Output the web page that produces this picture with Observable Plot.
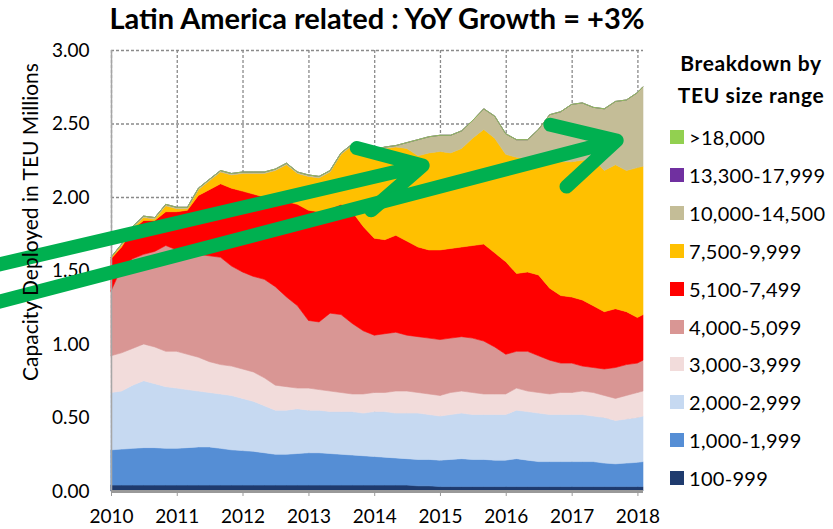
<!DOCTYPE html>
<html>
<head>
<meta charset="utf-8">
<script src="https://cdn.jsdelivr.net/npm/d3@7"></script>
<script src="https://cdn.jsdelivr.net/npm/@observablehq/plot@0.6"></script>
<style>
  html, body { margin: 0; padding: 0; background: #fff; }
  #wrap { position: relative; width: 833px; height: 529px; overflow: hidden; font-family: Lato, "Open Sans", sans-serif; color: #000; }
  #chart { position: absolute; left: 0; top: 0; }
  #title { position: absolute; left: 77px; width: 600px; top: 2px; text-align: center; font-weight: bold; font-size: 29px; line-height: 32px; white-space: nowrap; }
  #ylabel { position: absolute; left: 30px; top: 222px; transform: translate(-50%, -50%) rotate(-90deg); font-size: 21px; line-height: 24px; white-space: nowrap; }
  .lgtitle { position: absolute; left: 660px; width: 180px; text-align: center; font-weight: bold; font-size: 21px; letter-spacing: 0.6px; line-height: 26px; white-space: nowrap; }
  .lgitem { position: absolute; left: 670px; height: 22px; line-height: 22px; font-size: 20px; letter-spacing: 0.3px; white-space: nowrap; }
  .lgsw { position: absolute; left: 0; top: 4px; width: 14px; height: 14px; }
  .lgtx { position: absolute; left: 19px; top: 0; }
</style>
</head>
<body>
<div id="wrap">
  <div id="chart"></div>
  <div id="title"></div>
  <div id="ylabel"></div>
  <div id="legend"></div>
</div>
<script>
// ---- texts ----
const titleText = "Latin America related : YoY Growth = +3%";
const yLabelText = "Capacity Deployed in TEU Millions";
const legendTitle = ["Breakdown by", "TEU size range"];

// ---- axes ----
const yearTicks = ["2010", "2011", "2012", "2013", "2014", "2015", "2016", "2017", "2018"];
const yTickValues = [0, 0.5, 1, 1.5, 2, 2.5, 3];

// ---- categories (bottom of stack first) ----
const seriesNames = ["100-999", "1,000-1,999", "2,000-2,999", "3,000-3,999", "4,000-5,099", "5,100-7,499", "7,500-9,999", "10,000-14,500", "13,300-17,999", ">18,000"];
const seriesColors = ["#1f3b6e", "#558ed5", "#c6d9f1", "#f2dcdb", "#d99694", "#ff0000", "#ffc000", "#c4bd97", "#7030a0", "#92d050"];

// ---- dates (every two months) ----
const months = [
  "2010-01","2010-03","2010-05","2010-07","2010-09","2010-11",
  "2011-01","2011-03","2011-05","2011-07","2011-09","2011-11",
  "2012-01","2012-03","2012-05","2012-07","2012-09","2012-11",
  "2013-01","2013-03","2013-05","2013-07","2013-09","2013-11",
  "2014-01","2014-03","2014-05","2014-07","2014-09","2014-11",
  "2015-01","2015-03","2015-05","2015-07","2015-09","2015-11",
  "2016-01","2016-03","2016-05","2016-07","2016-09","2016-11",
  "2017-01","2017-03","2017-05","2017-07","2017-09","2017-11",
  "2018-01","2018-02"
];

// ---- series values, TEU millions ----
const teu100_999 = [
  0.04,0.04,0.04,0.04,0.04,0.04, 0.04,0.04,0.04,0.04,0.04,0.04,
  0.04,0.04,0.04,0.04,0.04,0.04, 0.04,0.04,0.04,0.04,0.04,0.04,
  0.04,0.04,0.04,0.04,0.035,0.035, 0.03,0.03,0.03,0.03,0.03,0.03,
  0.03,0.03,0.03,0.03,0.03,0.03, 0.03,0.03,0.03,0.03,0.03,0.03,
  0.03,0.03
];
const teu1000_1999 = [
  0.24,0.245,0.25,0.255,0.255,0.25, 0.25,0.255,0.26,0.26,0.25,0.24,
  0.235,0.23,0.22,0.21,0.21,0.215, 0.22,0.22,0.215,0.21,0.205,0.20,
  0.195,0.19,0.185,0.18,0.18,0.18, 0.18,0.185,0.19,0.185,0.185,0.18,
  0.18,0.19,0.18,0.17,0.17,0.17, 0.17,0.17,0.17,0.16,0.155,0.16,
  0.165,0.17
];
const teu2000_2999 = [
  0.39,0.395,0.43,0.455,0.435,0.42, 0.41,0.395,0.38,0.37,0.37,0.37,
  0.355,0.34,0.32,0.30,0.30,0.305, 0.29,0.29,0.285,0.29,0.295,0.29,
  0.305,0.31,0.305,0.31,0.315,0.305, 0.30,0.305,0.31,0.305,0.305,0.31,
  0.31,0.33,0.33,0.33,0.32,0.32, 0.32,0.32,0.31,0.31,0.295,0.30,
  0.305,0.31
];
const teu3000_3999 = [
  0.25,0.26,0.25,0.25,0.25,0.24, 0.25,0.24,0.23,0.21,0.20,0.20,
  0.20,0.20,0.19,0.17,0.16,0.14, 0.15,0.14,0.14,0.13,0.12,0.13,
  0.13,0.13,0.15,0.15,0.14,0.14, 0.14,0.15,0.15,0.15,0.14,0.14,
  0.14,0.15,0.14,0.14,0.14,0.15, 0.15,0.16,0.16,0.15,0.15,0.16,
  0.17,0.17
];
const teu4000_5099 = [
  0.44,0.58,0.61,0.61,0.65,0.72, 0.69,0.69,0.70,0.72,0.73,0.68,
  0.66,0.65,0.67,0.67,0.61,0.56, 0.46,0.46,0.53,0.53,0.48,0.43,
  0.39,0.40,0.40,0.38,0.38,0.38, 0.38,0.37,0.37,0.37,0.36,0.32,
  0.27,0.25,0.27,0.25,0.23,0.20, 0.20,0.17,0.17,0.18,0.21,0.21,
  0.20,0.21
];
const teu5100_7499 = [
  0.22,0.14,0.20,0.23,0.21,0.23, 0.26,0.29,0.40,0.45,0.50,0.53,
  0.55,0.56,0.56,0.59,0.65,0.69, 0.75,0.75,0.71,0.75,0.76,0.71,
  0.66,0.64,0.66,0.64,0.61,0.60, 0.61,0.61,0.61,0.63,0.66,0.64,
  0.63,0.53,0.54,0.55,0.49,0.46, 0.45,0.45,0.42,0.39,0.40,0.36,
  0.31,0.31
];
const teu7500_9999 = [
  0.01,0.01,0.01,0.02,0.01,0.04, 0.02,0.01,0.04,0.06,0.08,0.09,
  0.12,0.14,0.16,0.20,0.25,0.21, 0.23,0.23,0.25,0.34,0.45,0.54,
  0.59,0.62,0.60,0.63,0.62,0.66, 0.67,0.65,0.67,0.73,0.78,0.78,
  0.73,0.79,0.77,0.78,0.86,0.91, 0.92,0.95,1.00,0.96,0.98,0.96,
  1.02,1.01
];
const teu10000_14500 = [
  0.00,0.01,0.01,0.01,0.01,0.01, 0.01,0.01,0.01,0.01,0.01,0.01,
  0.01,0.01,0.01,0.01,0.01,0.01, 0.01,0.01,0.01,0.01,0.01,0.01,
  0.01,0.01,0.01,0.04,0.11,0.11, 0.11,0.12,0.12,0.12,0.14,0.15,
  0.14,0.12,0.13,0.21,0.32,0.34, 0.39,0.39,0.35,0.42,0.43,0.48,
  0.51,0.54
];
const teu13300_17999 = [
  0,0,0,0,0,0, 0,0,0,0,0,0, 0,0,0,0,0,0, 0,0,0,0,0,0,
  0,0,0,0,0,0, 0,0,0,0,0,0, 0,0,0,0,0,0, 0,0,0,0,0,0,
  0,0
];
const teu18000plus = [
  0,0,0,0,0,0, 0,0,0,0,0,0, 0,0,0,0,0,0, 0,0,0,0,0,0,
  0,0,0,0,0,0, 0,0,0,0,0,0, 0,0,0,0,0,0, 0,0,0,0,0,0,
  0,0
];

// ---- green annotation arrows (data coordinates) ----
const arrowStart = ["2008-03-28", "2008-03-28"];
const arrowStartY = [1.539, 1.284];
const arrowEnd = ["2014-09-24", "2017-09-05"];
const arrowEndY = [2.218, 2.388];

// ---- build ----
const seriesValues = [teu100_999, teu1000_1999, teu2000_2999, teu3000_3999, teu4000_5099,
  teu5100_7499, teu7500_9999, teu10000_14500, teu13300_17999, teu18000plus];
const rows = seriesNames.flatMap((s, i) =>
  months.map((m, j) => ({date: new Date(m + "-01T00:00:00Z"), series: s, value: seriesValues[i][j]})));
const yearDates = yearTicks.map(y => new Date(y + "-01-01T00:00:00Z"));

const chart = Plot.plot({
  width: 833,
  height: 529,
  marginLeft: 111,
  marginRight: 190,
  marginTop: 50,
  marginBottom: 38,
  x: {type: "utc", domain: [new Date("2010-01-01T00:00:00Z"), new Date("2018-02-01T00:00:00Z")]},
  y: {domain: [0, 3]},
  color: {domain: seriesNames, range: seriesColors},
  style: {fontFamily: "Lato, 'Open Sans', sans-serif", fontSize: "19px", color: "#000", background: "#fff", overflow: "visible"},
  marks: [
    Plot.gridY(yTickValues, {stroke: "#8a8a8a", strokeOpacity: 1, strokeWidth: 1.3, strokeDasharray: "3,2"}),
    Plot.gridX(yearDates, {stroke: "#8a8a8a", strokeOpacity: 1, strokeWidth: 1.3, strokeDasharray: "3,2"}),
    Plot.areaY(rows, Plot.stackY({
      x: "date", y: "value", fill: "series", stroke: "series", strokeWidth: 0.6,
      order: seriesNames, curve: "linear"
    })),
    Plot.ruleX([yearDates[0]], {stroke: "#a6a6a6", strokeWidth: 1.5}),
    Plot.ruleY([0], {stroke: "#999999", strokeWidth: 3}),
    Plot.axisX({ticks: yearDates, tickFormat: d3.utcFormat("%Y"), tickSize: 5, tickPadding: 13,
      stroke: "#999", fill: "#000", label: null}),
    Plot.axisY({ticks: yTickValues, tickFormat: d3.format(".2f"), tickSize: 0, tickPadding: 22,
      fill: "#000", label: null}),
    Plot.arrow([0, 1], {
      x1: i => new Date(arrowStart[i] + "T00:00:00Z"), y1: i => arrowStartY[i],
      x2: i => new Date(arrowEnd[i] + "T00:00:00Z"), y2: i => arrowEndY[i],
      stroke: "#00b050", strokeWidth: 14, headLength: 7.3, headAngle: 56,
      strokeLinecap: "round", strokeLinejoin: "round"
    })
  ]
});
document.getElementById("chart").appendChild(chart);

// ---- texts & legend ----
document.getElementById("title").textContent = titleText;
document.getElementById("ylabel").textContent = yLabelText;
const legend = document.getElementById("legend");
legendTitle.forEach((t, i) => {
  const d = document.createElement("div");
  d.className = "lgtitle";
  d.style.top = (50 + i * 32) + "px";
  d.style.left = "661px";
  d.textContent = t;
  legend.appendChild(d);
});
const legendOrder = seriesNames.slice().reverse();
legendOrder.forEach((name, i) => {
  const idx = seriesNames.indexOf(name);
  const item = document.createElement("div");
  item.className = "lgitem";
  item.style.top = (126 + i * 37.9) + "px";
  const sw = document.createElement("div");
  sw.className = "lgsw";
  sw.style.background = seriesColors[idx];
  const tx = document.createElement("div");
  tx.className = "lgtx";
  tx.textContent = name;
  item.appendChild(sw);
  item.appendChild(tx);
  legend.appendChild(item);
});
</script>
</body>
</html>
